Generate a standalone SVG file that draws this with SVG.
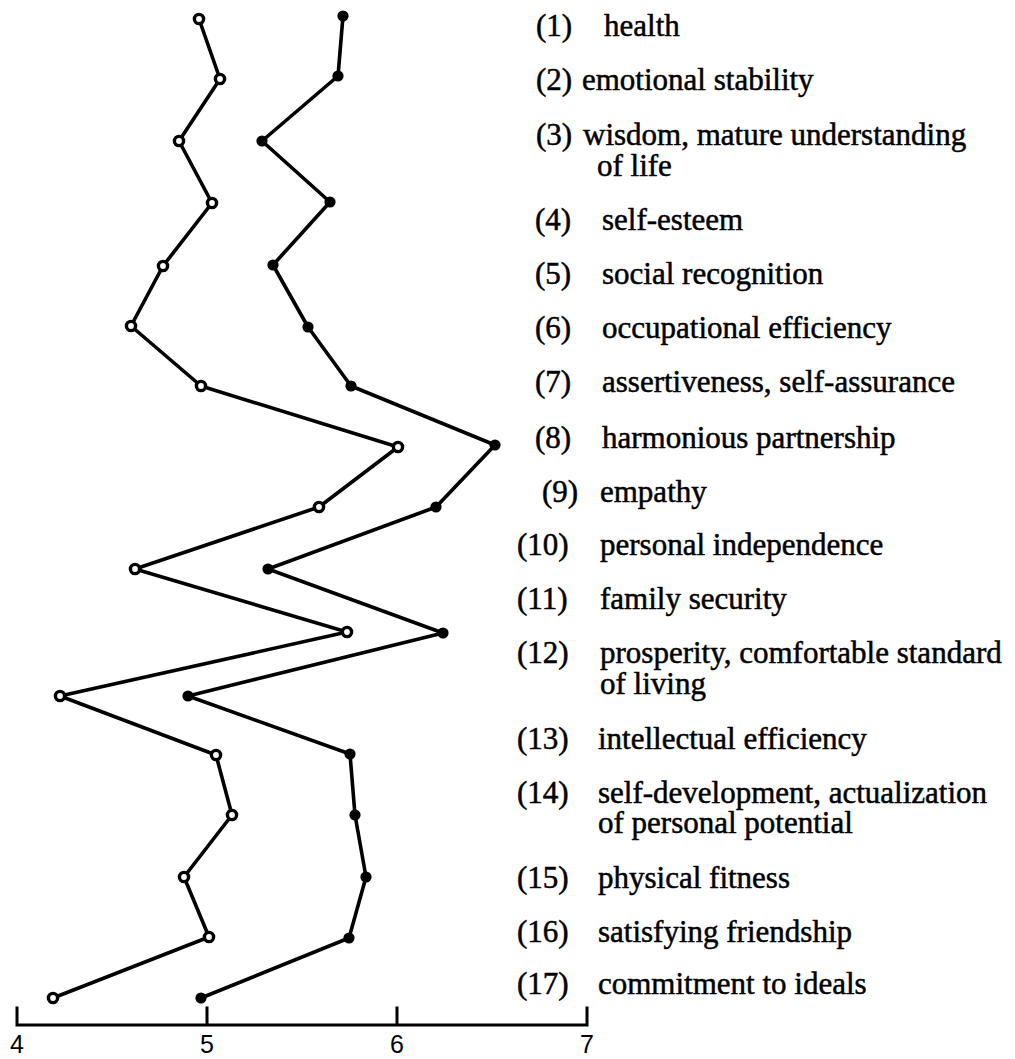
<svg xmlns="http://www.w3.org/2000/svg" width="1015" height="1059" viewBox="0 0 1015 1059">
<style>
.bg{fill:#fff}
.ln{fill:none;stroke:#000;stroke-width:3.6;stroke-linejoin:round;stroke-linecap:round}
.ax{fill:none;stroke:#000;stroke-width:3;stroke-linecap:square}
.o{fill:#fff;stroke:#000;stroke-width:3.4}
.f{fill:#000;stroke:none}
.t{font-family:"Liberation Serif","Times New Roman",serif;font-size:31px;fill:#000;stroke:#000;stroke-width:0.5}
.n{font-family:"Liberation Sans",Arial,sans-serif;font-size:25px;fill:#000;text-anchor:middle}
</style>
<rect class="bg" x="0" y="0" width="1015" height="1059"/>
<g id="connectors">
<polyline class="ln" points="199,19 220,79 179,141 212,203 163,266 131,326 201,386 398,447 319,507 135,569 347,632 60,696 216,755 232,815 184,877 209,937 53,998"/>
<polyline class="ln" points="343,16 338,76 262,141 330,202 273,265 308,327 351,386 495,445 436,507 268,569 443,633 188,696 350,754 355,815 366,877 349,938 201,998"/>
</g>
<g id="series-open">
<circle id="o1" class="o" cx="199" cy="19" r="4.6"/>
<circle id="o2" class="o" cx="220" cy="79" r="4.6"/>
<circle id="o3" class="o" cx="179" cy="141" r="4.6"/>
<circle id="o4" class="o" cx="212" cy="203" r="4.6"/>
<circle id="o5" class="o" cx="163" cy="266" r="4.6"/>
<circle id="o6" class="o" cx="131" cy="326" r="4.6"/>
<circle id="o7" class="o" cx="201" cy="386" r="4.6"/>
<circle id="o8" class="o" cx="398" cy="447" r="4.6"/>
<circle id="o9" class="o" cx="319" cy="507" r="4.6"/>
<circle id="o10" class="o" cx="135" cy="569" r="4.6"/>
<circle id="o11" class="o" cx="347" cy="632" r="4.6"/>
<circle id="o12" class="o" cx="60" cy="696" r="4.6"/>
<circle id="o13" class="o" cx="216" cy="755" r="4.6"/>
<circle id="o14" class="o" cx="232" cy="815" r="4.6"/>
<circle id="o15" class="o" cx="184" cy="877" r="4.6"/>
<circle id="o16" class="o" cx="209" cy="937" r="4.6"/>
<circle id="o17" class="o" cx="53" cy="998" r="4.6"/>
</g>
<g id="series-filled">
<circle id="f1" class="f" cx="343" cy="16" r="5.6"/>
<circle id="f2" class="f" cx="338" cy="76" r="5.6"/>
<circle id="f3" class="f" cx="262" cy="141" r="5.6"/>
<circle id="f4" class="f" cx="330" cy="202" r="5.6"/>
<circle id="f5" class="f" cx="273" cy="265" r="5.6"/>
<circle id="f6" class="f" cx="308" cy="327" r="5.6"/>
<circle id="f7" class="f" cx="351" cy="386" r="5.6"/>
<circle id="f8" class="f" cx="495" cy="445" r="5.6"/>
<circle id="f9" class="f" cx="436" cy="507" r="5.6"/>
<circle id="f10" class="f" cx="268" cy="569" r="5.6"/>
<circle id="f11" class="f" cx="443" cy="633" r="5.6"/>
<circle id="f12" class="f" cx="188" cy="696" r="5.6"/>
<circle id="f13" class="f" cx="350" cy="754" r="5.6"/>
<circle id="f14" class="f" cx="355" cy="815" r="5.6"/>
<circle id="f15" class="f" cx="366" cy="877" r="5.6"/>
<circle id="f16" class="f" cx="349" cy="938" r="5.6"/>
<circle id="f17" class="f" cx="201" cy="998" r="5.6"/>
</g>
<g id="axis">
<path class="ax" d="M17,1008 V1025 H587 V1008 M207,1008 V1025 M397,1008 V1025"/>
<text class="n" x="17" y="1053">4</text>
<text class="n" x="207" y="1053">5</text>
<text class="n" x="397" y="1053">6</text>
<text class="n" x="587" y="1053">7</text>
</g>
<g id="labels" class="t">
<g id="l1"><text x="536" y="36">(1)</text><text x="604" y="36">health</text></g>
<g id="l2"><text x="536" y="90">(2)</text><text x="582" y="90">emotional stability</text></g>
<g id="l3"><text x="536" y="145">(3)</text><text x="583" y="145">wisdom, mature understanding<tspan x="597" dy="31">of life</tspan></text></g>
<g id="l4"><text x="535" y="230">(4)</text><text x="602" y="230">self-esteem</text></g>
<g id="l5"><text x="535" y="284">(5)</text><text x="602" y="284">social recognition</text></g>
<g id="l6"><text x="535" y="338">(6)</text><text x="602" y="338">occupational efficiency</text></g>
<g id="l7"><text x="535" y="392">(7)</text><text x="602" y="392">assertiveness, self-assurance</text></g>
<g id="l8"><text x="535" y="448">(8)</text><text x="602" y="448">harmonious partnership</text></g>
<g id="l9"><text x="542" y="502">(9)</text><text x="600" y="502">empathy</text></g>
<g id="l10"><text x="517" y="555">(10)</text><text x="600" y="555">personal independence</text></g>
<g id="l11"><text x="517" y="609">(11)</text><text x="600" y="609">family security</text></g>
<g id="l12"><text x="517" y="663">(12)</text><text x="600" y="663">prosperity, comfortable standard<tspan x="600" dy="31">of living</tspan></text></g>
<g id="l13"><text x="517" y="749">(13)</text><text x="598" y="749">intellectual efficiency</text></g>
<g id="l14"><text x="517" y="803">(14)</text><text x="598" y="803">self-development, actualization<tspan x="598" dy="30">of personal potential</tspan></text></g>
<g id="l15"><text x="517" y="888">(15)</text><text x="598" y="888">physical fitness</text></g>
<g id="l16"><text x="517" y="942">(16)</text><text x="598" y="942">satisfying friendship</text></g>
<g id="l17"><text x="517" y="994">(17)</text><text x="598" y="994">commitment to ideals</text></g>
</g>
</svg>
